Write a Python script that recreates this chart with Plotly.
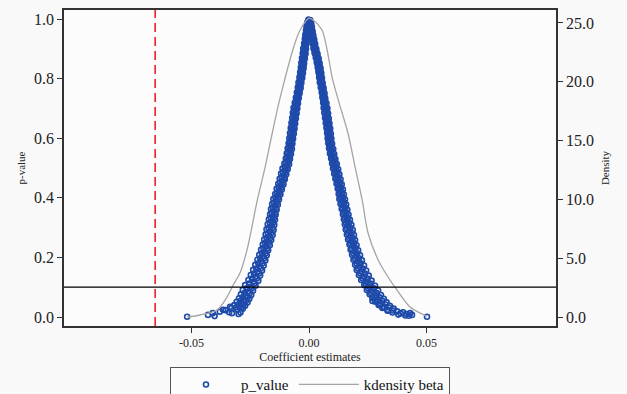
import plotly.graph_objects as go

# ---- data ----
beta_left = [
    -0.0003, 0.0000, 0.0003, -0.0008, -0.0004, -0.0001, -0.0011, -0.0007, -0.0003,
    -0.0013, -0.0009, -0.0005, -0.0016, -0.0012, -0.0008, -0.0018, -0.0013, -0.0009,
    -0.0021, -0.0016, -0.0011, -0.0025, -0.0019, -0.0013, -0.0027, -0.0021, -0.0015,
    -0.0030, -0.0024, -0.0018, -0.0033, -0.0027, -0.0021, -0.0035, -0.0029, -0.0023,
    -0.0038, -0.0032, -0.0026, -0.0041, -0.0035, -0.0029, -0.0045, -0.0039, -0.0033,
    -0.0048, -0.0042, -0.0036, -0.0052, -0.0046, -0.0040, -0.0056, -0.0050, -0.0044,
    -0.0061, -0.0054, -0.0047, -0.0066, -0.0058, -0.0050, -0.0069, -0.0061, -0.0053,
    -0.0072, -0.0064, -0.0056, -0.0075, -0.0067, -0.0059, -0.0078, -0.0070, -0.0062,
    -0.0081, -0.0073, -0.0065, -0.0084, -0.0076, -0.0068, -0.0087, -0.0079, -0.0071,
    -0.0091, -0.0082, -0.0073, -0.0095, -0.0086, -0.0077, -0.0099, -0.0090, -0.0081,
    -0.0105, -0.0095, -0.0085, -0.0113, -0.0102, -0.0091, -0.0119, -0.0108, -0.0097,
    -0.0125, -0.0114, -0.0103, -0.0131, -0.0120, -0.0109, -0.0138, -0.0127, -0.0116,
    -0.0144, -0.0133, -0.0122, -0.0152, -0.0140, -0.0128, -0.0157, -0.0145, -0.0133,
    -0.0162, -0.0150, -0.0138, -0.0166, -0.0154, -0.0142, -0.0171, -0.0158, -0.0145,
    -0.0176, -0.0162, -0.0148, -0.0181, -0.0166, -0.0151, -0.0185, -0.0170, -0.0155,
    -0.0191, -0.0176, -0.0161, -0.0197, -0.0182, -0.0167, -0.0204, -0.0189, -0.0174,
    -0.0212, -0.0196, -0.0180, -0.0220, -0.0203, -0.0186, -0.0229, -0.0211, -0.0193,
    -0.0238, -0.0219, -0.0200, -0.0248, -0.0228, -0.0208, -0.0258, -0.0237, -0.0216,
    -0.0272, -0.0250, -0.0228, -0.0282, -0.0260, -0.0238, -0.0290, -0.0268, -0.0246,
    -0.0298, -0.0276, -0.0254, -0.0308, -0.0285, -0.0262, -0.0318, -0.0295, -0.0272,
    -0.0330, -0.0305, -0.0282,
]
p_left = [
    0.997, 0.993, 0.996, 0.988, 0.982, 0.986, 0.975, 0.969, 0.973,
    0.961, 0.955, 0.959, 0.947, 0.941, 0.945, 0.933, 0.927, 0.931,
    0.918, 0.912, 0.916, 0.901, 0.895, 0.899, 0.885, 0.879, 0.883,
    0.869, 0.863, 0.867, 0.853, 0.847, 0.851, 0.837, 0.831, 0.835,
    0.821, 0.815, 0.819, 0.804, 0.798, 0.802, 0.787, 0.781, 0.785,
    0.770, 0.764, 0.768, 0.753, 0.747, 0.751, 0.736, 0.730, 0.734,
    0.719, 0.713, 0.717, 0.702, 0.696, 0.700, 0.685, 0.679, 0.683,
    0.668, 0.662, 0.666, 0.651, 0.645, 0.649, 0.634, 0.628, 0.632,
    0.617, 0.611, 0.615, 0.600, 0.594, 0.598, 0.583, 0.577, 0.581,
    0.566, 0.560, 0.564, 0.549, 0.543, 0.547, 0.532, 0.526, 0.530,
    0.515, 0.509, 0.513, 0.498, 0.492, 0.496, 0.481, 0.475, 0.479,
    0.464, 0.458, 0.462, 0.447, 0.441, 0.445, 0.430, 0.424, 0.428,
    0.413, 0.407, 0.411, 0.396, 0.390, 0.394, 0.379, 0.373, 0.377,
    0.362, 0.356, 0.360, 0.345, 0.339, 0.343, 0.328, 0.322, 0.326,
    0.311, 0.305, 0.309, 0.294, 0.288, 0.292, 0.277, 0.271, 0.275,
    0.260, 0.254, 0.258, 0.243, 0.237, 0.241, 0.226, 0.220, 0.224,
    0.209, 0.203, 0.207, 0.192, 0.186, 0.190, 0.175, 0.169, 0.173,
    0.158, 0.152, 0.156, 0.141, 0.135, 0.139, 0.124, 0.118, 0.122,
    0.107, 0.101, 0.105, 0.091, 0.085, 0.089, 0.076, 0.070, 0.074,
    0.063, 0.057, 0.061, 0.051, 0.045, 0.049, 0.040, 0.034, 0.038,
    0.030, 0.024, 0.028,
]
beta_left_mid = [
    -0.0004, 0.0000, -0.0008, -0.0003, -0.0010, -0.0006, -0.0013, -0.0008,
    -0.0015, -0.0010, -0.0017, -0.0012, -0.0020, -0.0015, -0.0023, -0.0017,
    -0.0025, -0.0020, -0.0028, -0.0023, -0.0031, -0.0025, -0.0034, -0.0027,
    -0.0037, -0.0030, -0.0040, -0.0034, -0.0044, -0.0037, -0.0047, -0.0041,
    -0.0051, -0.0045, -0.0056, -0.0048, -0.0060, -0.0052, -0.0064, -0.0055,
    -0.0067, -0.0058, -0.0070, -0.0061, -0.0073, -0.0064, -0.0076, -0.0067,
    -0.0079, -0.0070, -0.0082, -0.0073, -0.0085, -0.0076, -0.0089, -0.0079,
    -0.0093, -0.0083, -0.0098, -0.0087, -0.0104, -0.0093, -0.0111, -0.0099,
    -0.0117, -0.0105, -0.0123, -0.0111, -0.0130, -0.0117, -0.0136, -0.0124,
    -0.0143, -0.0130, -0.0149, -0.0136, -0.0154, -0.0141, -0.0159, -0.0145,
    -0.0163, -0.0149, -0.0167, -0.0153, -0.0172, -0.0156, -0.0176, -0.0160,
    -0.0181, -0.0165, -0.0187, -0.0171, -0.0194, -0.0177, -0.0201, -0.0184,
    -0.0208, -0.0191, -0.0216, -0.0198, -0.0225, -0.0205, -0.0234, -0.0213,
    -0.0243, -0.0222, -0.0255, -0.0232, -0.0266, -0.0244, -0.0275, -0.0253,
    -0.0283, -0.0261, -0.0292, -0.0269, -0.0302, -0.0278, -0.0312, -0.0288,
]
p_left_mid = [
    0.990, 0.990, 0.978, 0.978, 0.965, 0.965, 0.951, 0.951,
    0.937, 0.937, 0.922, 0.922, 0.906, 0.906, 0.890, 0.890,
    0.874, 0.874, 0.858, 0.858, 0.842, 0.842, 0.826, 0.826,
    0.810, 0.810, 0.792, 0.792, 0.775, 0.775, 0.758, 0.758,
    0.741, 0.741, 0.724, 0.724, 0.707, 0.707, 0.690, 0.690,
    0.673, 0.673, 0.656, 0.656, 0.639, 0.639, 0.622, 0.622,
    0.605, 0.605, 0.588, 0.588, 0.571, 0.571, 0.554, 0.554,
    0.537, 0.537, 0.520, 0.520, 0.503, 0.503, 0.486, 0.486,
    0.469, 0.469, 0.452, 0.452, 0.435, 0.435, 0.418, 0.418,
    0.401, 0.401, 0.384, 0.384, 0.367, 0.367, 0.350, 0.350,
    0.333, 0.333, 0.316, 0.316, 0.299, 0.299, 0.282, 0.282,
    0.265, 0.265, 0.248, 0.248, 0.231, 0.231, 0.214, 0.214,
    0.197, 0.197, 0.180, 0.180, 0.163, 0.163, 0.146, 0.146,
    0.129, 0.129, 0.112, 0.112, 0.096, 0.096, 0.080, 0.080,
    0.066, 0.066, 0.054, 0.054, 0.042, 0.042, 0.032, 0.032,
]
beta_right = [
    -0.0001, 0.0002, 0.0005, 0.0001, 0.0005, 0.0009, 0.0004, 0.0008, 0.0012,
    0.0007, 0.0011, 0.0015, 0.0010, 0.0014, 0.0018, 0.0012, 0.0017, 0.0022,
    0.0016, 0.0021, 0.0026, 0.0019, 0.0025, 0.0031, 0.0024, 0.0030, 0.0036,
    0.0029, 0.0035, 0.0041, 0.0033, 0.0039, 0.0045, 0.0037, 0.0043, 0.0049,
    0.0040, 0.0046, 0.0052, 0.0043, 0.0049, 0.0055, 0.0046, 0.0052, 0.0058,
    0.0050, 0.0056, 0.0062, 0.0054, 0.0060, 0.0066, 0.0057, 0.0063, 0.0069,
    0.0060, 0.0067, 0.0074, 0.0062, 0.0070, 0.0078, 0.0065, 0.0073, 0.0081,
    0.0068, 0.0076, 0.0084, 0.0071, 0.0079, 0.0087, 0.0074, 0.0082, 0.0090,
    0.0077, 0.0085, 0.0093, 0.0079, 0.0087, 0.0095, 0.0082, 0.0090, 0.0098,
    0.0085, 0.0094, 0.0103, 0.0089, 0.0098, 0.0107, 0.0094, 0.0103, 0.0112,
    0.0098, 0.0108, 0.0118, 0.0102, 0.0113, 0.0124, 0.0107, 0.0118, 0.0129,
    0.0112, 0.0123, 0.0134, 0.0117, 0.0128, 0.0139, 0.0122, 0.0133, 0.0144,
    0.0126, 0.0137, 0.0148, 0.0129, 0.0141, 0.0153, 0.0134, 0.0146, 0.0158,
    0.0139, 0.0151, 0.0163, 0.0144, 0.0156, 0.0168, 0.0148, 0.0161, 0.0174,
    0.0152, 0.0166, 0.0180, 0.0156, 0.0171, 0.0186, 0.0161, 0.0176, 0.0191,
    0.0166, 0.0181, 0.0196, 0.0172, 0.0187, 0.0202, 0.0177, 0.0193, 0.0209,
    0.0183, 0.0200, 0.0217, 0.0189, 0.0207, 0.0225, 0.0196, 0.0215, 0.0234,
    0.0203, 0.0223, 0.0243, 0.0212, 0.0233, 0.0254, 0.0222, 0.0244, 0.0266,
    0.0235, 0.0258, 0.0281, 0.0246, 0.0270, 0.0294, 0.0258, 0.0282, 0.0306,
    0.0270, 0.0294, 0.0318, 0.0282, 0.0306, 0.0330, 0.0296, 0.0320, 0.0344,
    0.0312, 0.0336, 0.0360, 0.0335, 0.0355, 0.0375,
]
p_right = [
    0.997, 0.993, 0.996, 0.988, 0.982, 0.986, 0.975, 0.969, 0.973,
    0.961, 0.955, 0.959, 0.947, 0.941, 0.945, 0.933, 0.927, 0.931,
    0.918, 0.912, 0.916, 0.901, 0.895, 0.899, 0.885, 0.879, 0.883,
    0.869, 0.863, 0.867, 0.853, 0.847, 0.851, 0.837, 0.831, 0.835,
    0.821, 0.815, 0.819, 0.804, 0.798, 0.802, 0.787, 0.781, 0.785,
    0.770, 0.764, 0.768, 0.753, 0.747, 0.751, 0.736, 0.730, 0.734,
    0.719, 0.713, 0.717, 0.702, 0.696, 0.700, 0.685, 0.679, 0.683,
    0.668, 0.662, 0.666, 0.651, 0.645, 0.649, 0.634, 0.628, 0.632,
    0.617, 0.611, 0.615, 0.600, 0.594, 0.598, 0.583, 0.577, 0.581,
    0.566, 0.560, 0.564, 0.549, 0.543, 0.547, 0.532, 0.526, 0.530,
    0.515, 0.509, 0.513, 0.498, 0.492, 0.496, 0.481, 0.475, 0.479,
    0.464, 0.458, 0.462, 0.447, 0.441, 0.445, 0.430, 0.424, 0.428,
    0.413, 0.407, 0.411, 0.396, 0.390, 0.394, 0.379, 0.373, 0.377,
    0.362, 0.356, 0.360, 0.345, 0.339, 0.343, 0.328, 0.322, 0.326,
    0.311, 0.305, 0.309, 0.294, 0.288, 0.292, 0.277, 0.271, 0.275,
    0.260, 0.254, 0.258, 0.243, 0.237, 0.241, 0.226, 0.220, 0.224,
    0.209, 0.203, 0.207, 0.192, 0.186, 0.190, 0.175, 0.169, 0.173,
    0.158, 0.152, 0.156, 0.141, 0.135, 0.139, 0.124, 0.118, 0.122,
    0.107, 0.101, 0.105, 0.091, 0.085, 0.089, 0.076, 0.070, 0.074,
    0.063, 0.057, 0.061, 0.051, 0.045, 0.049, 0.040, 0.034, 0.038,
    0.030, 0.024, 0.028, 0.021, 0.015, 0.019,
]
beta_right_mid = [
    0.0002, 0.0005, 0.0004, 0.0009, 0.0007, 0.0012, 0.0010, 0.0015,
    0.0013, 0.0018, 0.0016, 0.0022, 0.0020, 0.0026, 0.0024, 0.0031,
    0.0029, 0.0036, 0.0034, 0.0040, 0.0038, 0.0044, 0.0041, 0.0048,
    0.0044, 0.0051, 0.0047, 0.0054, 0.0051, 0.0057, 0.0055, 0.0061,
    0.0058, 0.0065, 0.0061, 0.0069, 0.0065, 0.0072, 0.0067, 0.0076,
    0.0070, 0.0079, 0.0073, 0.0082, 0.0076, 0.0085, 0.0079, 0.0088,
    0.0082, 0.0090, 0.0084, 0.0093, 0.0087, 0.0097, 0.0091, 0.0101,
    0.0095, 0.0106, 0.0100, 0.0111, 0.0105, 0.0116, 0.0110, 0.0121,
    0.0115, 0.0126, 0.0120, 0.0131, 0.0125, 0.0136, 0.0129, 0.0141,
    0.0133, 0.0145, 0.0137, 0.0150, 0.0142, 0.0155, 0.0147, 0.0160,
    0.0152, 0.0165, 0.0157, 0.0170, 0.0161, 0.0176, 0.0166, 0.0181,
    0.0171, 0.0186, 0.0176, 0.0192, 0.0182, 0.0198, 0.0188, 0.0205,
    0.0195, 0.0212, 0.0202, 0.0220, 0.0209, 0.0229, 0.0218, 0.0238,
    0.0228, 0.0249, 0.0240, 0.0262, 0.0252, 0.0276, 0.0264, 0.0288,
    0.0276, 0.0300, 0.0288, 0.0312, 0.0301, 0.0325, 0.0316, 0.0340,
    0.0334, 0.0357,
]
p_right_mid = [
    0.990, 0.990, 0.978, 0.978, 0.965, 0.965, 0.951, 0.951,
    0.937, 0.937, 0.922, 0.922, 0.906, 0.906, 0.890, 0.890,
    0.874, 0.874, 0.858, 0.858, 0.842, 0.842, 0.826, 0.826,
    0.810, 0.810, 0.792, 0.792, 0.775, 0.775, 0.758, 0.758,
    0.741, 0.741, 0.724, 0.724, 0.707, 0.707, 0.690, 0.690,
    0.673, 0.673, 0.656, 0.656, 0.639, 0.639, 0.622, 0.622,
    0.605, 0.605, 0.588, 0.588, 0.571, 0.571, 0.554, 0.554,
    0.537, 0.537, 0.520, 0.520, 0.503, 0.503, 0.486, 0.486,
    0.469, 0.469, 0.452, 0.452, 0.435, 0.435, 0.418, 0.418,
    0.401, 0.401, 0.384, 0.384, 0.367, 0.367, 0.350, 0.350,
    0.333, 0.333, 0.316, 0.316, 0.299, 0.299, 0.282, 0.282,
    0.265, 0.265, 0.248, 0.248, 0.231, 0.231, 0.214, 0.214,
    0.197, 0.197, 0.180, 0.180, 0.163, 0.163, 0.146, 0.146,
    0.129, 0.129, 0.112, 0.112, 0.096, 0.096, 0.080, 0.080,
    0.066, 0.066, 0.054, 0.054, 0.042, 0.042, 0.032, 0.032,
    0.022, 0.022,
]
beta_tails = [-0.0519, -0.0430, -0.0410, -0.0402, -0.0366, -0.0355, -0.0328, -0.0336,
              -0.0340, -0.0380, -0.0292, -0.0300,
              0.0502, 0.0438, 0.0430, 0.0415, 0.0400, 0.0390, 0.0425, 0.0410,
              0.0270, 0.0380]
p_tails = [0.001, 0.007, 0.013, 0.003, 0.024, 0.023, 0.013, 0.034,
           0.016, 0.018, 0.015, 0.010,
           0.001, 0.007, 0.013, 0.010, 0.016, 0.012, 0.004, 0.005,
           0.054, 0.008]

kd_x = [-0.0519, -0.0464, -0.0391, -0.0349, -0.0323, -0.0294, -0.0264, -0.0220,
        -0.0187, -0.0157, -0.0132, -0.0111, -0.0089, -0.0060, -0.0038, 0.0000,
        0.0017, 0.0055, 0.0077, 0.0098, 0.0125, 0.0166, 0.0196, 0.0226, 0.0251,
        0.0294, 0.0336, 0.0374, 0.0430, 0.0502]
kd_y = [0.00, 0.17, 0.60, 1.70, 2.72, 3.74, 5.70, 9.95,
        12.75, 15.60, 17.90, 19.60, 21.30, 23.30, 24.40, 25.40,
        25.25, 24.40, 22.70, 20.40, 18.40, 15.60, 12.75, 9.95, 7.14,
        4.85, 3.40, 2.30, 0.85, 0.05]

actual_beta = -0.0655
p_threshold = 0.1

x_ticks = [-0.05, 0.0, 0.05]
x_tick_labels = ["-0.05", "0.00", "0.05"]
p_ticks = [0.0, 0.2, 0.4, 0.6, 0.8, 1.0]
d_ticks = [0, 5, 10, 15, 20, 25]

SERIF = "Liberation Serif, Times New Roman, serif"
BLUE = "rgb(30,74,170)"

fig = go.Figure()
fig.add_trace(go.Scatter(
    x=beta_left + beta_left_mid + beta_right + beta_right_mid + beta_tails,
    y=p_left + p_left_mid + p_right + p_right_mid + p_tails,
    mode="markers", name="p_value",
    marker=dict(symbol="circle-open", size=5, color=BLUE, line=dict(width=1.6, color=BLUE)),
))
fig.add_trace(go.Scatter(
    x=kd_x, y=kd_y, mode="lines", name="kdensity beta", yaxis="y2",
    line=dict(color="rgb(165,165,165)", width=1.3, shape="spline", smoothing=0.8),
))

fig.add_vline(x=actual_beta, line=dict(color="rgb(235,30,40)", width=1.6, dash="9px,5px"))
fig.add_hline(y=p_threshold, line=dict(color="black", width=1.2))

axis_common = dict(showgrid=False, zeroline=False, showline=True, linecolor="#333",
                   linewidth=1.5, ticks="outside", ticklen=5, tickcolor="#333",
                   automargin=False)

fig.update_layout(
    width=627, height=394,
    margin=dict(l=64, r=71, t=10, b=68),
    paper_bgcolor="#f9f9f9", plot_bgcolor="#fcfcfc",
    font=dict(family=SERIF, color="#222"),
    showlegend=True,
    legend=dict(orientation="h", x=0.5, xanchor="center", xref="paper",
                y=0.068, yanchor="top", yref="container",
                bordercolor="#555", borderwidth=1, bgcolor="#fcfcfc",
                font=dict(family=SERIF, size=15, color="#111"), itemwidth=60,
                tracegroupgap=0),
    xaxis=dict(range=[-0.1043, 0.1051], tickvals=x_ticks, ticktext=x_tick_labels,
               mirror=True, tickfont=dict(family=SERIF, size=12),
               title=dict(text="Coefficient estimates", font=dict(family=SERIF, size=12), standoff=0),
               **axis_common),
    yaxis=dict(range=[-0.0302, 1.0302], tickvals=p_ticks, tickformat=".1f",
               tickfont=dict(family=SERIF, size=16),
               title=dict(text="p-value", font=dict(family=SERIF, size=11), standoff=6),
               **axis_common),
    yaxis2=dict(range=[-0.765, 26.1], tickvals=d_ticks, tickformat=".1f",
                overlaying="y", side="right",
                tickfont=dict(family=SERIF, size=16),
                title=dict(text="Density", font=dict(family=SERIF, size=11), standoff=8),
                **axis_common),
)

fig.write_html("out.html", config={"displayModeBar": False},
               post_script="document.body.style.margin='0';document.body.style.overflow='hidden';")
